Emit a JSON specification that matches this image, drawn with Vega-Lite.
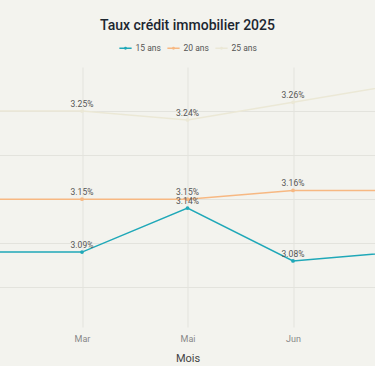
{
  "$schema": "https://vega.github.io/schema/vega-lite/v6.json",
  "width": 422,
  "height": 260,
  "autosize": "none",
  "padding": {"top": 67, "left": -23.5, "right": -23.5, "bottom": 39},
  "background": "#f3f3ee",
  "title": {
    "text": "Taux crédit immobilier 2025",
    "font": "Roboto",
    "fontSize": 14,
    "fontWeight": 500,
    "color": "#1c2630",
    "anchor": "middle",
    "offset": 8
  },
  "config": {
    "view": {"stroke": null},
    "font": "Roboto"
  },
  "data": {
    "values": [
      {"mois": "Fév", "serie": "15 ans", "taux": 3.09},
      {"mois": "Mar", "serie": "15 ans", "taux": 3.09},
      {"mois": "Mai", "serie": "15 ans", "taux": 3.14},
      {"mois": "Jun", "serie": "15 ans", "taux": 3.08},
      {"mois": "Jul", "serie": "15 ans", "taux": 3.09},
      {"mois": "Fév", "serie": "20 ans", "taux": 3.15},
      {"mois": "Mar", "serie": "20 ans", "taux": 3.15},
      {"mois": "Mai", "serie": "20 ans", "taux": 3.15},
      {"mois": "Jun", "serie": "20 ans", "taux": 3.16},
      {"mois": "Jul", "serie": "20 ans", "taux": 3.16},
      {"mois": "Fév", "serie": "25 ans", "taux": 3.25},
      {"mois": "Mar", "serie": "25 ans", "taux": 3.25},
      {"mois": "Mai", "serie": "25 ans", "taux": 3.24},
      {"mois": "Jun", "serie": "25 ans", "taux": 3.26},
      {"mois": "Jul", "serie": "25 ans", "taux": 3.28}
    ]
  },
  "encoding": {
    "x": {
      "field": "mois",
      "type": "ordinal",
      "sort": null,
      "scale": {"type": "point", "domain": ["Fév", "Mar", "Mai", "Jun", "Jul"], "padding": 0},
      "axis": {
        "values": ["Mar", "Mai", "Jun"],
        "title": "Mois",
        "titleFont": "Roboto",
        "titleFontSize": 11,
        "titleFontWeight": 400,
        "titleColor": "#444444",
        "titlePadding": 9,
        "labelFont": "Roboto",
        "labelFontSize": 9,
        "labelColor": "#888888",
        "labelPadding": 7,
        "labelAngle": 0,
        "ticks": false,
        "domain": false,
        "grid": true,
        "gridColor": "#e3e3dd",
        "gridWidth": 1
      }
    },
    "y": {
      "field": "taux",
      "type": "quantitative",
      "scale": {"domain": [3.005, 3.3], "zero": false, "nice": false},
      "axis": {
        "values": [3.05, 3.1, 3.15, 3.2, 3.25],
        "labels": false,
        "ticks": false,
        "domain": false,
        "title": null,
        "grid": true,
        "gridColor": "#e3e3dd",
        "gridWidth": 1
      }
    },
    "color": {
      "field": "serie",
      "type": "nominal",
      "scale": {"domain": ["15 ans", "20 ans", "25 ans"], "range": ["#1fa8b8", "#f7b882", "#ebe8d6"]},
      "legend": {
        "title": null,
        "orient": "none",
        "legendX": 142,
        "legendY": -26,
        "direction": "horizontal",
        "labelFont": "Roboto",
        "labelFontSize": 8.5,
        "labelColor": "#555555",
        "labelOffset": 3,
        "columnPadding": 2,
        "symbolType": "M-1,0H1M-0.12,0A0.12,0.12 0 1 1 0.12,0A0.12,0.12 0 1 1 -0.12,0",
        "symbolSize": 150,
        "symbolStrokeWidth": 1.5
      }
    }
  },
  "layer": [
    {
      "mark": {"type": "line", "strokeWidth": 1.5, "clip": true}
    },
    {
      "mark": {"type": "point", "filled": true, "size": 14, "opacity": 1, "clip": true}
    },
    {
      "transform": [
        {"filter": {"field": "mois", "oneOf": ["Mar", "Mai", "Jun"]}},
        {"calculate": "format(datum.taux, '.2f') + '%'", "as": "etiquette"}
      ],
      "mark": {"type": "text", "fontSize": 8.5, "font": "Roboto", "baseline": "bottom", "dy": -2, "clip": true},
      "encoding": {
        "text": {"field": "etiquette", "type": "nominal"},
        "color": {"value": "#555555"}
      }
    }
  ]
}
